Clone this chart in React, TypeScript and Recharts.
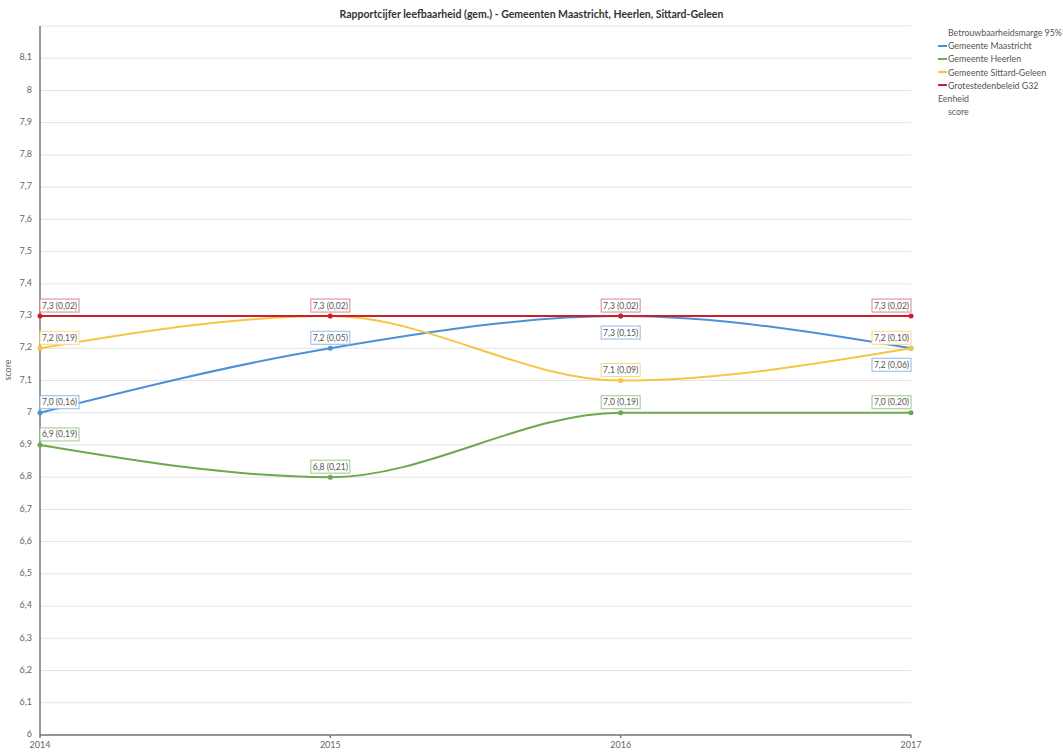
import React from "react";
import { LineChart, Line, XAxis, YAxis, CartesianGrid, LabelList } from "recharts";

// ── data ──────────────────────────────────────────────────────────────────────

const YEARS = ["2014", "2015", "2016", "2017"];
const MAASTRICHT = [7.0, 7.2, 7.3, 7.2];
const MAASTRICHT_CI = [0.16, 0.05, 0.15, 0.06];
const HEERLEN = [6.9, 6.8, 7.0, 7.0];
const HEERLEN_CI = [0.19, 0.21, 0.19, 0.2];
const SITTARD = [7.2, 7.3, 7.1, 7.2];
const SITTARD_CI = [0.19, 0.02, 0.09, 0.1];
const G32 = [7.3, 7.3, 7.3, 7.3];
const G32_CI = [0.02, 0.02, 0.02, 0.02];
const Y_TICKS = [6, 6.1, 6.2, 6.3, 6.4, 6.5, 6.6, 6.7, 6.8, 6.9, 7, 7.1, 7.2, 7.3, 7.4, 7.5, 7.6, 7.7, 7.8, 7.9, 8, 8.1];

// where each value label sits (above / below / hidden)
const MAASTRICHT_POS = ["up", "up", "down", "down"];
const HEERLEN_POS = ["up", "up", "up", "up"];
const SITTARD_POS = ["up", "none", "up", "up"];
const G32_POS = ["up", "up", "up", "up"];

const data = YEARS.map((year, i) => ({
  year,
  maastricht: MAASTRICHT[i],
  heerlen: HEERLEN[i],
  sittard: SITTARD[i],
  g32: G32[i],
}));

const FONT = "Lato, 'Open Sans', sans-serif";
const BLUE = "#4e90d6";
const GREEN = "#6aa94c";
const YELLOW = "#f5c544";
const RED = "#c9202c";

const fmt = (v: number, d: number) => v.toFixed(d).replace(".", ",");

function makeLabel(ci: number[], pos: string[], border: string) {
  return (props: any) => {
    const { x, y, index, value } = props;
    const p = pos[index];
    if (p === "none") return null;
    const w = 39;
    const h = 13;
    let bx = x - w / 2;
    if (index === 0) bx = x;
    if (index === YEARS.length - 1) bx = x - w;
    const by = p === "up" ? y - 4 - h : y + 10;
    return (
      <g>
        <rect x={bx} y={by} width={w} height={h} fill="#fff" stroke={border} strokeWidth={1} />
        <text
          x={bx + w / 2}
          y={by + h / 2 + 3}
          textAnchor="middle"
          fontSize={8.5}
          fill="#555"
          fontFamily={FONT}
        >
          {`${fmt(value, 1)} (${fmt(ci[index], 2)})`}
        </text>
      </g>
    );
  };
}

const LEGEND = [
  { name: "Gemeente Maastricht", color: BLUE },
  { name: "Gemeente Heerlen", color: GREEN },
  { name: "Gemeente Sittard-Geleen", color: YELLOW },
  { name: "Grotestedenbeleid G32", color: RED },
];

export default function App() {
  return (
    <div style={{ position: "fixed", left: 0, top: 0, width: 1063, height: 754, background: "#fff", fontFamily: FONT }}>
      <div
        style={{
          position: "absolute",
          top: 8,
          left: 0,
          width: 1063,
          textAlign: "center",
          fontSize: 10.5,
          fontWeight: 700,
          color: "#333",
        }}
      >
        Rapportcijfer leefbaarheid (gem.) - Gemeenten Maastricht, Heerlen, Sittard-Geleen
      </div>

      <div style={{ position: "absolute", left: 938, top: 26, fontSize: 8.8, color: "#555", lineHeight: "13.2px" }}>
        <div style={{ paddingLeft: 10 }}>Betrouwbaarheidsmarge 95%</div>
        {LEGEND.map((l) => (
          <div key={l.name} style={{ display: "flex", alignItems: "center" }}>
            <span style={{ display: "inline-block", width: 9, height: 2, background: l.color, marginRight: 1 }} />
            {l.name}
          </div>
        ))}
        <div>Eenheid</div>
        <div style={{ paddingLeft: 10 }}>score</div>
      </div>

      <LineChart width={1063} height={754} data={data} margin={{ top: 26, right: 152, bottom: 0, left: 0 }}>
        <CartesianGrid vertical={false} stroke="#e3e3e3" />
        <XAxis
          dataKey="year"
          height={19}
          tickSize={3}
          tick={{ fontSize: 9, fill: "#666", fontFamily: FONT, dy: 2 }}
          stroke="#777"
          strokeWidth={1.5}
          tickLine={{ stroke: "#777" }}
          interval={0}
        />
        <YAxis
          width={40}
          domain={[6, 8.2]}
          ticks={Y_TICKS}
          interval={0}
          tickLine={false}
          tickFormatter={(v) => String(v).replace(".", ",")}
          tick={{ fontSize: 9, fill: "#666", fontFamily: FONT, dy: -1 }}
          stroke="#777"
          strokeWidth={1.5}
          label={{ value: "score", angle: -90, position: "insideLeft", offset: 8, fontSize: 9, fill: "#666", fontFamily: FONT }}
        />
        <Line type="monotone" dataKey="heerlen" stroke={GREEN} strokeWidth={2} dot={{ r: 1.5, fill: GREEN, stroke: GREEN }} isAnimationActive={false}>
          <LabelList dataKey="heerlen" content={makeLabel(HEERLEN_CI, HEERLEN_POS, "#9cc98a")} />
        </Line>
        <Line type="monotone" dataKey="maastricht" stroke={BLUE} strokeWidth={2} dot={{ r: 1.5, fill: BLUE, stroke: BLUE }} isAnimationActive={false}>
          <LabelList dataKey="maastricht" content={makeLabel(MAASTRICHT_CI, MAASTRICHT_POS, "#8fb9e6")} />
        </Line>
        <Line type="monotone" dataKey="sittard" stroke={YELLOW} strokeWidth={2} dot={{ r: 1.5, fill: YELLOW, stroke: YELLOW }} isAnimationActive={false}>
          <LabelList dataKey="sittard" content={makeLabel(SITTARD_CI, SITTARD_POS, "#f8d97f")} />
        </Line>
        <Line type="monotone" dataKey="g32" stroke={RED} strokeWidth={2} dot={{ r: 1.5, fill: RED, stroke: RED }} isAnimationActive={false}>
          <LabelList dataKey="g32" content={makeLabel(G32_CI, G32_POS, "#e0858a")} />
        </Line>
      </LineChart>
    </div>
  );
}
